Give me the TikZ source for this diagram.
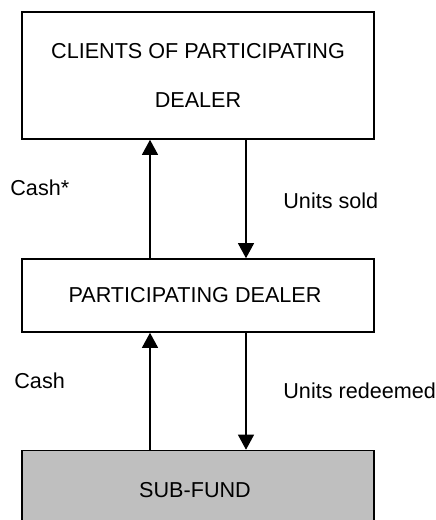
\documentclass[tikz,border=0pt]{standalone}
\usepackage{fontspec}
\setmainfont{Liberation Sans}
\usetikzlibrary{arrows.meta}

\tikzset{
    flowbox/.style={draw, line width=0.8pt, minimum width=176pt, inner sep=0pt, align=center},
    flowtext/.style={font=\fontsize{10.8}{24.5}\selectfont},
    flowarrow/.style={line width=0.6pt, -{Triangle[length=7.5pt, width=8pt]}}
}

\begin{document}
\begin{tikzpicture}[x=0.5pt, y=-0.5pt]
        \useasboundingbox (0, 0) rectangle (435, 520);

        \node[flowbox, flowtext, minimum height=63.5pt] (clients) at (198, 75.5) { CLIENTS OF PARTICIPATING \\ DEALER };
        \node[flowbox, flowtext, minimum height=36.5pt] (dealer) at (198, 295.5) { PARTICIPATING DEALER };
        \node[flowbox, flowtext, fill=black!25, minimum height=39.5pt] (fund) at (198, 490) { SUB-FUND };

        \coordinate (lx) at (150, 0);
        \coordinate (rx) at (246, 0);

        \draw[flowarrow] (dealer.north -| lx) -- (clients.south -| lx);
        \draw[flowarrow] (clients.south -| rx) -- (dealer.north -| rx);
        \draw[flowarrow] (fund.north -| lx) -- (dealer.south -| lx);
        \draw[flowarrow] (dealer.south -| rx) -- (fund.north -| rx);

        \node[flowtext, anchor=west, inner sep=0pt] (cashstar) at (10, 188) { Cash* };
        \node[flowtext, anchor=west, inner sep=0pt] (sold) at (283, 201) { Units sold };
        \node[flowtext, anchor=west, inner sep=0pt] (cash) at (14, 381) { Cash };
        \node[flowtext, anchor=west, inner sep=0pt] (redeemed) at (283, 391) { Units redeemed };
    \end{tikzpicture}
\end{document}
